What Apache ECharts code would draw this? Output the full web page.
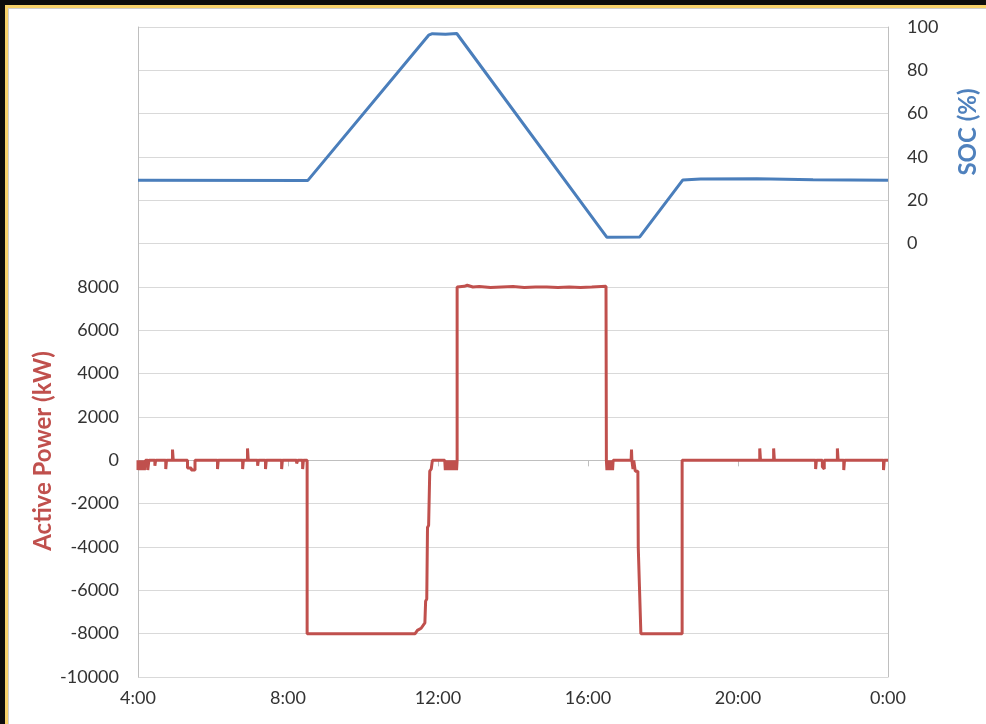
<!DOCTYPE html>
<html>
<head>
<meta charset="utf-8">
<script src="https://cdn.jsdelivr.net/npm/echarts@6/dist/echarts.min.js"></script>
<style>
  html, body { margin: 0; padding: 0; background: #0d0d0d; overflow: hidden; }
  #frame {
    position: absolute; left: 5px; top: 5px; width: 990px; height: 730px;
    border: 3px solid #f7d26a; background: #fff;
    box-shadow: inset 1px 1px 0 #d0d0d0;
  }
  #chart { position: absolute; left: 0; top: 0; width: 986px; height: 724px; }
</style>
</head>
<body>
<div id="frame"></div>
<div id="chart"></div>
<script>
// time in hours from 4:00 (24 = 0:00 next day)
const hourTicks = [4, 8, 12, 16, 20, 24];

// state of charge (%)
const socHours = [4.0, 8.53, 11.75, 11.85, 12.2, 12.5, 16.5, 17.38, 18.53, 19.0, 20.5, 22.0, 24.0];
const socValues = [29.3, 29.2, 96.2, 96.9, 96.7, 97.0, 3.0, 3.1, 29.4, 29.9, 30.0, 29.5, 29.3];

// active power (kW)
const powerHours = [
  4.00, 4.00, 4.02, 4.02, 4.05, 4.05, 4.08, 4.08, 4.11, 4.11, 4.14, 4.14, 4.17, 4.17, 4.20, 4.20, 4.26, 4.26, 4.29, 4.29,
  4.45, 4.45, 4.47, 4.47, 4.74, 4.74, 4.76, 4.76, 4.92, 4.92, 4.94, 4.94,
  5.32, 5.32, 5.42, 5.42, 5.52, 5.52, 6.12, 6.12, 6.14, 6.14,
  6.79, 6.79, 6.81, 6.81, 6.92, 6.92, 6.94, 6.94, 7.19, 7.19, 7.21, 7.21,
  7.40, 7.40, 7.42, 7.42, 7.83, 7.83, 7.85, 7.85, 8.23, 8.23, 8.26, 8.26,
  8.39, 8.39, 8.41, 8.41, 8.51, 8.51,
  11.39, 11.45, 11.55, 11.65, 11.67, 11.70, 11.72, 11.75, 11.78, 11.82, 11.85,
  12.18, 12.195, 12.21, 12.225, 12.24, 12.255, 12.27, 12.285, 12.30, 12.315, 12.33, 12.345,
  12.36, 12.375, 12.39, 12.405, 12.42, 12.435, 12.45, 12.465, 12.48, 12.495, 12.51, 12.51,
  12.70, 12.78, 12.93, 13.10, 13.40, 13.70, 14.00, 14.30, 14.60, 14.90, 15.20, 15.50, 15.80, 16.10, 16.48,
  16.49, 16.505, 16.52, 16.535, 16.55, 16.565, 16.58, 16.595, 16.61, 16.625, 16.64, 16.655, 16.67,
  17.15, 17.16, 17.17, 17.20, 17.22, 17.26, 17.33, 17.34, 17.39, 17.41,
  18.51, 18.51,
  20.58, 20.58, 20.60, 20.60, 20.95, 20.95, 20.97, 20.97,
  22.07, 22.07, 22.09, 22.09, 22.25, 22.25, 22.30, 22.30,
  22.65, 22.65, 22.67, 22.67, 22.82, 22.82, 22.84, 22.84, 23.88, 23.88, 23.90, 23.90, 24.00
];
const powerValues = [
  0, -450, -450, 0, 0, -450, -450, 0, 0, -450, -450, 0, 0, -450, -450, 0, 0, -450, -450, 0,
  0, -250, -250, 0, 0, -400, -400, 0, 0, 500, 500, 0,
  0, -350, -350, -450, -450, 0, 0, -400, -400, 0,
  0, -400, -400, 0, 0, 550, 550, 0, 0, -250, -250, 0,
  0, -400, -400, 0, 0, -400, -400, 0, 0, -150, -150, 0,
  0, -400, -400, 0, 0, -8000,
  -8000, -7850, -7750, -7500, -6500, -6400, -3100, -3000, -500, -400, 0,
  0, -450, 0, -450, 0, -450, 0, -450, 0, -450, 0, -450,
  0, -450, 0, -450, 0, -450, 0, -450, 0, -450, 0, 8000,
  8030, 8080, 8000, 8020, 7980, 8000, 8020, 7980, 8000, 8000, 7980, 8000, 7980, 8000, 8030,
  0, -450, 0, -450, 0, -450, 0, -450, 0, -450, 0, -450, 0,
  0, 500, 0, -400, 0, -500, -500, -4000, -4000, -8000,
  -8000, 0,
  0, 550, 550, 0, 0, 550, 550, 0,
  0, -400, -400, 0, 0, -300, -400, 0,
  0, 550, 550, 0, 0, -450, -450, 0, 0, -450, -450, 0, 0
];

// left axis labels only go up to 8000, right axis only from 0
const powerMin = -10000, powerMax = 20000, powerStep = 2000, powerLabelMax = 8000;
const socMin = -200, socMax = 100, socStep = 20, socLabelMin = 0;

const socData = socHours.map((h, i) => [h, socValues[i]]);
const powerData = powerHours.map((h, i) => [h, powerValues[i]]);

const chart = echarts.init(document.getElementById("chart"));

const labelStyle = {
  color: "#333333",
  fontFamily: "Lato",
  fontSize: 18,
};

const option = {
  animation: false,
  grid: { left: 138, right: 98, top: 27, bottom: 47 },
  xAxis: {
    type: "value",
    min: hourTicks[0],
    max: hourTicks[hourTicks.length - 1],
    interval: 4,
    axisLine: { lineStyle: { color: "#bfbfbf", width: 1 } },
    axisTick: { show: true, inside: false, length: 6, lineStyle: { color: "#bfbfbf" } },
    splitLine: { show: false },
    axisLabel: {
      ...labelStyle,
      margin: 12,
      formatter: (v) => (v % 24) + ":00", // 4:00 ... 0:00
    },
  },
  yAxis: [
    {
      type: "value",
      min: powerMin,
      max: powerMax,
      interval: powerStep,
      axisLine: { show: true, lineStyle: { color: "#bfbfbf", width: 1 } },
      axisTick: { show: false },
      splitLine: { lineStyle: { color: "#d9d9d9", width: 1 } },
      axisLabel: {
        ...labelStyle,
        margin: 19,
        formatter: (v) => (v > powerLabelMax ? "" : String(v)),
      },
    },
    {
      type: "value",
      position: "right",
      min: socMin,
      max: socMax,
      interval: socStep,
      axisLine: { show: true, lineStyle: { color: "#bfbfbf", width: 1 } },
      axisTick: { show: false },
      splitLine: { show: false },
      axisLabel: {
        ...labelStyle,
        margin: 19,
        formatter: (v) => (v < socLabelMin ? "" : String(v)),
      },
    },
  ],
  graphic: [
    {
      type: "text",
      x: 43,
      y: 451,
      rotation: Math.PI / 2,
      style: {
        text: "Active Power (kW)",
        fill: "#c0504d",
        font: "bold 24px Lato",
        textAlign: "center",
        textVerticalAlign: "middle",
      },
    },
    {
      type: "text",
      x: 968,
      y: 132,
      rotation: Math.PI / 2,
      style: {
        text: "SOC (%)",
        fill: "#4f81bd",
        font: "bold 24px Lato",
        textAlign: "center",
        textVerticalAlign: "middle",
      },
    },
  ],
  series: [
    {
      name: "Active Power",
      type: "line",
      yAxisIndex: 0,
      data: powerData,
      showSymbol: false,
      lineStyle: { color: "#c0504d", width: 3 },
      itemStyle: { color: "#c0504d" },
    },
    {
      name: "SOC",
      type: "line",
      yAxisIndex: 1,
      data: socData,
      showSymbol: false,
      lineStyle: { color: "#4a7ebb", width: 3 },
      itemStyle: { color: "#4a7ebb" },
    },
  ],
};

chart.setOption(option);
</script>
</body>
</html>
